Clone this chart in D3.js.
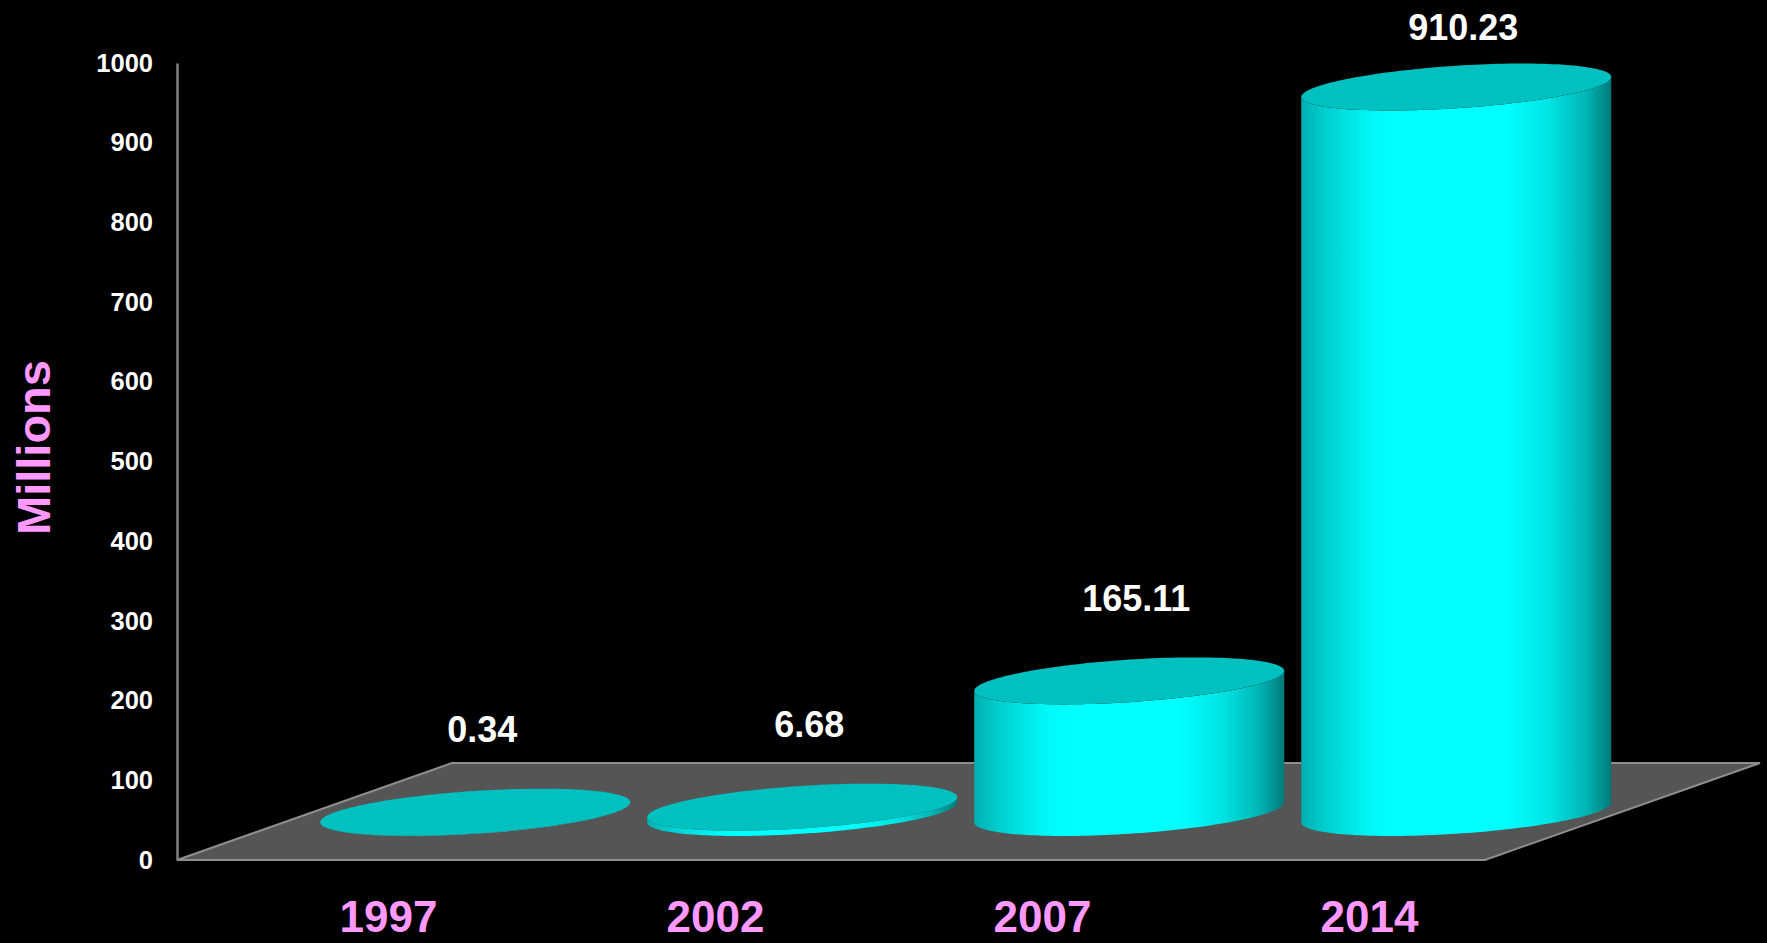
<!DOCTYPE html>
<html>
<head>
<meta charset="utf-8">
<script src="https://cdn.jsdelivr.net/npm/d3@7"></script>
<style>
  html, body { margin: 0; padding: 0; background: #000; overflow: hidden; }
  svg { display: block; }
  text { font-family: "Liberation Sans", Arial, sans-serif; font-weight: bold; }
</style>
</head>
<body>
<svg id="chart" width="1767" height="943"></svg>
<script>
// ---- data ----
const categories = ["1997", "2002", "2007", "2014"];
const values = [0.34, 6.68, 165.11, 910.23];
const valueLabels = ["0.34", "6.68", "165.11", "910.23"];
const tickValues = [0, 100, 200, 300, 400, 500, 600, 700, 800, 900, 1000];
const axisTitle = "Millions";

// ---- layout ----
const W = 1767, H = 943;
const svg = d3.select("#chart");
svg.append("rect").attr("width", W).attr("height", H).attr("fill", "#000");

const x = d3.scaleBand().domain(categories).range([177, 1485]).padding(0);
const y = d3.scaleLinear().domain([0, 1000]).range([860, 63]);
const depth = { dx: 275, dy: -97 };   // projected floor depth
const barDepth = 0.49;                // bars sit mid-depth
const halfW = x.bandwidth() * 0.474;  // cylinder half width
const tilt = 10;                      // ellipse tangent offset
const ellH = 23.5;                    // ellipse half height
const ellD = Math.sqrt(ellH * ellH - tilt * tilt);

// gradient for cylinder sides
const defs = svg.append("defs");
const grad = defs.append("linearGradient").attr("id", "cyl")
  .attr("x1", 0).attr("x2", 1).attr("y1", 0).attr("y2", 0);
[[0, "#00b0b0"], [0.08, "#00cfcf"], [0.22, "#00f6f6"], [0.3, "#00ffff"],
 [0.66, "#00ffff"], [0.8, "#00e4e4"], [0.92, "#00b4b4"], [1, "#007a7a"]]
  .forEach(([o, c]) => grad.append("stop").attr("offset", o).attr("stop-color", c));

// floor
const fy = y(0), fx0 = x.range()[0], fx1 = x.range()[1];
svg.append("path")
  .attr("d", `M${fx0},${fy}L${fx1},${fy}L${fx1 + depth.dx},${fy + depth.dy}L${fx0 + depth.dx},${fy + depth.dy}Z`)
  .attr("fill", "#555555")
  .attr("stroke", "#8e8e8e")
  .attr("stroke-width", 2)
  .attr("stroke-linejoin", "miter");

// helpers
function ellPoint(cx, cy, t) {
  return [cx + halfW * Math.cos(t), cy - tilt * Math.cos(t) + ellD * Math.sin(t)];
}
function ellipsePath(cx, cy, t0, t1, n) {
  const pts = [];
  for (let i = 0; i <= n; i++) {
    const t = t0 + (t1 - t0) * i / n;
    pts.push(ellPoint(cx, cy, t));
  }
  return pts;
}

const bars = svg.append("g");
const baseY = y(0) + depth.dy * barDepth;
categories.forEach((cat, i) => {
  const cx = x(cat) + x.bandwidth() / 2 + depth.dx * barDepth;
  const hgt = y(0) - y(values[i]);
  const topY = baseY - hgt;
  const topFront = ellipsePath(cx, topY, 0, Math.PI, 80);
  const botFront = ellipsePath(cx, baseY, Math.PI, 0, 80);
  const side = topFront.concat(botFront);
  bars.append("path")
    .attr("d", "M" + side.map(p => p.join(",")).join("L") + "Z")
    .attr("fill", "url(#cyl)");
  const top = ellipsePath(cx, topY, 0, 2 * Math.PI, 160);
  bars.append("path")
    .attr("d", "M" + top.map(p => p.join(",")).join("L") + "Z")
    .attr("fill", "#00c0c0");
  // value label
  bars.append("text")
    .attr("x", cx + 7)
    .attr("y", Math.max(topY - 70, 40))
    .attr("text-anchor", "middle")
    .attr("fill", "#ffffff")
    .attr("font-size", 36)
    .text(valueLabels[i]);
});

// y axis
const yAxis = svg.append("g")
  .attr("transform", `translate(${fx0},0)`)
  .call(d3.axisLeft(y).tickValues(tickValues).tickSize(0).tickSizeOuter(0).tickPadding(24)
    .tickFormat(d3.format("d")));
yAxis.select(".domain").attr("stroke", "#808080").attr("stroke-width", 2.5);
yAxis.selectAll("text")
  .attr("fill", "#ffffff")
  .attr("font-size", 25.5)
  .attr("font-family", "'Liberation Sans', Arial, sans-serif")
  .attr("font-weight", "bold");

// axis title
svg.append("text")
  .attr("transform", "translate(50,447.5) rotate(-90)")
  .attr("text-anchor", "middle")
  .attr("fill", "#ff99ff")
  .attr("font-size", 47)
  .text(axisTitle);

// category labels
svg.append("g").selectAll("text").data(categories).join("text")
  .attr("x", d => x(d) + x.bandwidth() / 2 + 48)
  .attr("y", 932)
  .attr("text-anchor", "middle")
  .attr("fill", "#ff99ff")
  .attr("font-size", 44)
  .text(d => d);
</script>
</body>
</html>
